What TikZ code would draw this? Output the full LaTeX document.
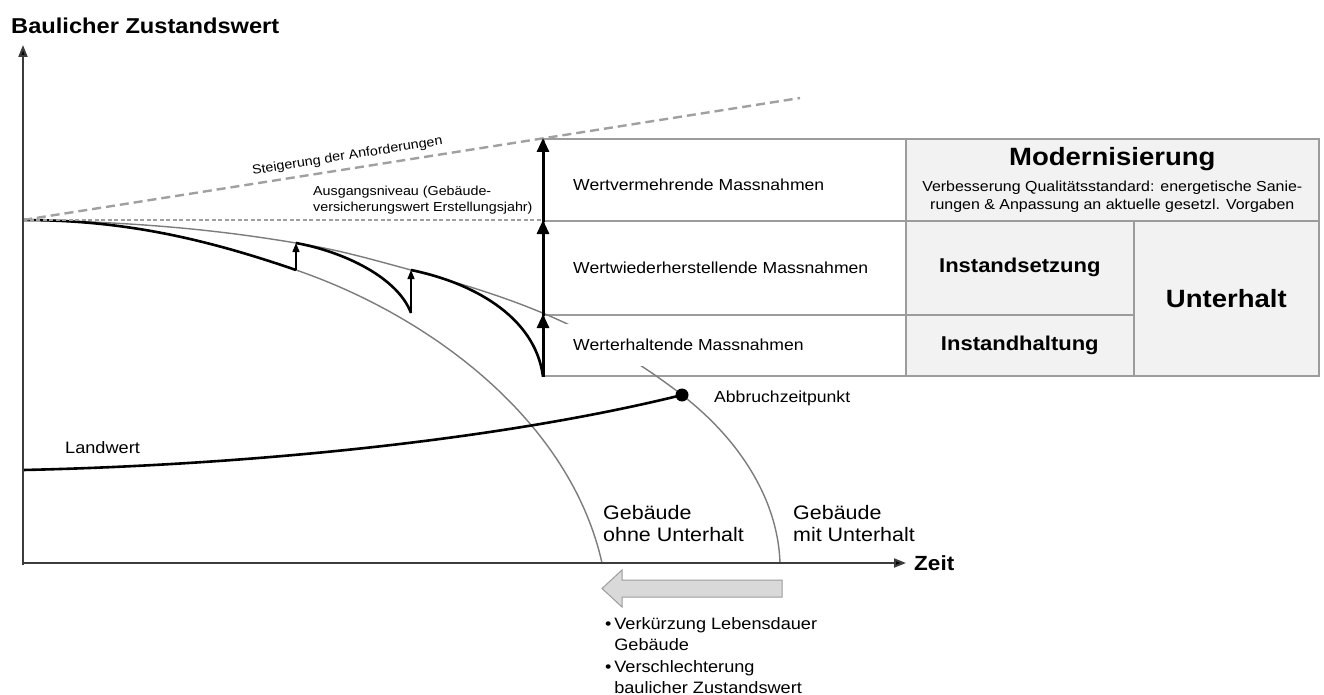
\documentclass[tikz,border=0pt]{standalone}
\usepackage{fontspec}
\setmainfont[FakeStretch=1.1]{Liberation Sans}
\usetikzlibrary{arrows.meta}
\definecolor{linegray}{HTML}{7C7C7C}
\definecolor{dashgray}{HTML}{A0A0A0}
\definecolor{bordergray}{HTML}{9C9C9C}
\definecolor{cellgray}{HTML}{F2F2F2}
\definecolor{axisgray}{HTML}{3C3C3C}
\definecolor{bargray}{HTML}{D9D9D9}
\newcommand{\fsz}[2]{\fontsize{#1}{#2}\selectfont}

\begin{document}
\begin{tikzpicture}[x=1pt,y=-1pt]
	\useasboundingbox[fill=white] (0,0) rectangle (1324,695);

	\coordinate (o) at (23,220);
	\coordinate (xa) at (23,563);
	\coordinate (xtip) at (906,563);
	\coordinate (ytip) at (23,45);
	\coordinate (p1) at (296,243);
	\coordinate (p2) at (411,270);
	\coordinate (b1) at (296,270);
	\coordinate (b2) at (411,313);
	\coordinate (lw) at (23,470);
	\coordinate (ohne) at (602,563);
	\coordinate (mit) at (780,563);
	\coordinate (req) at (800,98);

	\begin{scope}[every node/.style={draw=bordergray,line width=1.6pt,inner sep=0pt,anchor=north west,align=center}]
		\node[minimum width=362pt,minimum height=82pt] (verm) at (543,138) {};
		\node[minimum width=362pt,minimum height=94pt] (wied) at (543,220) {};
		\node[minimum width=362pt,minimum height=61pt] (erh) at (543,314) {};
		\node[fill=cellgray,minimum width=413pt,minimum height=82pt,font=\fsz{14.5}{18}] (modern) at (905,138)
			{\fsz{25}{28}\bfseries Modernisierung\\[8pt]
			 \fsz{14.5}{18}Verbesserung Qualitätsstandard: energetische Sanie-\\\fsz{14.5}{18}rungen \& Anpassung an aktuelle gesetzl. Vorgaben};
		\node[fill=cellgray,minimum width=228pt,minimum height=94pt,font=\fsz{20}{24}\bfseries] (setz) at (905,220) {Instandsetzung};
		\node[fill=cellgray,minimum width=228pt,minimum height=61pt,font=\fsz{20}{24}\bfseries] (halt) at (905,314) {Instandhaltung};
		\node[fill=cellgray,minimum width=185pt,minimum height=155pt,font=\fsz{25}{28}\bfseries] (unter) at (1133,220) {Unterhalt};
	\end{scope}

	\draw[linegray,line width=1.4pt] (o) .. controls (150,222) and (230,232) .. (p1)
		.. controls (340,250) and (370,259) .. (p2)
		.. controls (460,283) and (505,297) .. (545,314)
		.. controls (600,337) and (650,370) .. (682,395)
		.. controls (740,440) and (778,500) .. (mit);
	\draw[linegray,line width=1.4pt] (o) .. controls (120,220) and (200,237) .. (b1)
		.. controls (430,316) and (570,420) .. (ohne);

	\draw[black,line width=2.6pt] (o) .. controls (120,220) and (200,237) .. (b1);
	\draw[black,line width=2.6pt] (p1) .. controls (345,252) and (398,278) .. (b2);
	\draw[black,line width=2.6pt] (p2) .. controls (470,282) and (535,315) .. (erh.south west);

	\draw[dashgray,line width=2.4pt,dash pattern=on 9pt off 5pt] (o) -- node[pos=0.42,above=2pt,sloped,text=black,font=\fsz{13}{16}] (steig) {Steigerung der Anforderungen} (req);
	\draw[dashgray,line width=1.3pt,dash pattern=on 4pt off 2.5pt] (o) -- (wied.north west);

	\draw[black,line width=2.6pt] (lw) .. controls (250,465) and (500,440) .. (682,395);
	\node[circle,fill=black,inner sep=0pt,minimum size=13pt] (abb) at (682,395) {};

	\begin{scope}[every node/.style={inner sep=0pt,anchor=west,align=left,font=\fsz{16}{19}}]
		\node (tverm) at (573,185) {Wertvermehrende Massnahmen};
		\node (twied) at (573,268) {Wertwiederherstellende Massnahmen};
		\node[fill=white,inner xsep=11pt,inner ysep=15pt] (terh) at (562,345) {Werterhaltende Massnahmen};
		\node (tabb) at (714,398) {Abbruchzeitpunkt};
		\node[font=\fsz{16.5}{19}] (tland) at (65,448) {Landwert};
		\node[font=\fsz{13}{16}] (tausg) at (313,200) {Ausgangsniveau (Gebäude-\\versicherungswert Erstellungsjahr)};
		\node[font=\fsz{19.5}{22}] (tohne) at (603,524) {Gebäude\\ohne Unterhalt};
		\node[font=\fsz{19.5}{22}] (tmit) at (793,524) {Gebäude\\mit Unterhalt};
		\node[font=\fsz{21.5}{24}\bfseries] (title) at (11,26) {Baulicher Zustandswert};
		\node[font=\fsz{20.5}{24}\bfseries] (zeit) at (914,563) {Zeit};
		\node[anchor=north west,font=\fsz{16.5}{21.5}] (folgen) at (605,617)
			{•\,Verkürzung Lebensdauer\\\phantom{•\,}Gebäude\\•\,Verschlechterung\\\phantom{•\,}baulicher Zustandswert};
	\end{scope}

	\begin{scope}[>={Triangle[length=14pt,width=12pt]}]
		\path (erh.south west) edge[->,line width=3pt] (erh.north west);
		\path (wied.south west) edge[->,line width=3pt] (wied.north west);
		\path (verm.south west) edge[->,line width=3pt] (verm.north west);
	\end{scope}
	\begin{scope}[>={Triangle[length=9pt,width=7pt]}]
		\path (b1) edge[->,line width=1.3pt] (p1);
		\path (b2) edge[->,line width=1.3pt] (p2);
	\end{scope}

	\begin{scope}[>={Triangle[length=12pt,width=9pt,fill=black]}]
		\draw[->,axisgray,line width=2pt] (23,565) -- (ytip);
		\draw[->,axisgray,line width=2pt] (xa) -- (xtip);
	\end{scope}

	\draw[fill=bargray,draw=bordergray,line width=1pt] (782,580) -- (622,580) -- (622,570) -- (602,588.5)
		-- (622,607) -- (622,597) -- (782,597) -- cycle;
\end{tikzpicture}
\end{document}
